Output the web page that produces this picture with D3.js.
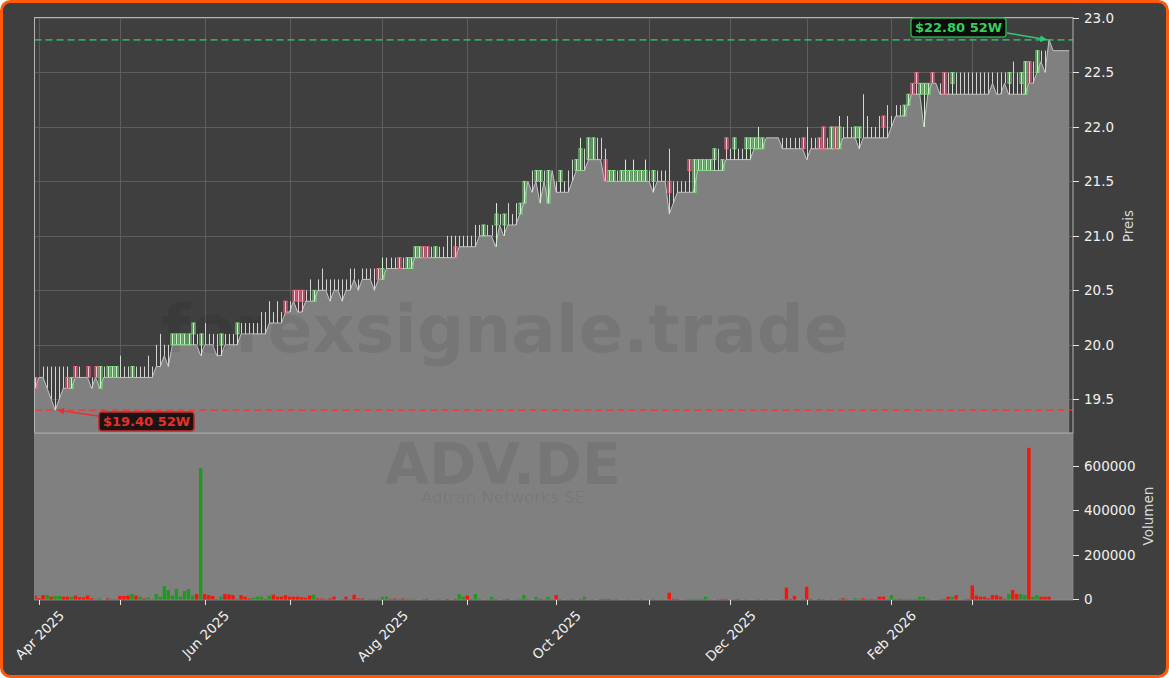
<!DOCTYPE html>
<html><head><meta charset="utf-8">
<script src="https://cdn.jsdelivr.net/npm/d3@7"></script>
<style>html,body{margin:0;padding:0;background:#fff;}svg{display:block;}</style>
</head><body>
<svg id="c" width="1169" height="678"></svg>
<script>
// ---------- DATA ----------
const startDate = "2025-03-31";
const tickEndDate = "2026-03-31";
const holidays = ["2025-04-18","2025-04-21","2025-05-01","2025-12-24","2025-12-25","2025-12-26","2025-12-31","2026-01-01"];

const lows = [
19.6,19.7,19.7,19.6,19.5,19.4,19.5,19.6,19.6,19.6,
19.7,19.7,19.7,19.7,19.6,19.7,19.6,19.7,19.7,19.7,
19.7,19.7,19.7,19.7,19.7,19.7,19.7,19.7,19.7,19.7,
19.8,19.8,19.9,19.8,20.0,20.0,20.0,20.0,20.0,20.0,
20.0,19.9,20.0,20.0,20.0,19.9,19.9,20.0,20.0,20.0,
20.0,20.1,20.1,20.1,20.1,20.1,20.1,20.1,20.2,20.2,
20.2,20.2,20.3,20.3,20.4,20.3,20.3,20.4,20.4,20.4,
20.5,20.5,20.5,20.4,20.5,20.5,20.4,20.5,20.5,20.6,
20.5,20.6,20.6,20.6,20.5,20.6,20.6,20.7,20.7,20.7,
20.7,20.7,20.7,20.7,20.8,20.8,20.8,20.8,20.8,20.8,
20.8,20.8,20.8,20.8,20.8,20.9,20.9,20.9,20.9,20.9,
21.0,21.0,21.0,21.0,20.9,21.1,21.0,21.1,21.1,21.1,
21.2,21.3,21.5,21.4,21.5,21.3,21.5,21.3,21.6,21.4,
21.4,21.4,21.4,21.5,21.6,21.6,21.6,21.7,21.7,21.7,
21.7,21.5,21.5,21.5,21.5,21.5,21.5,21.5,21.5,21.5,
21.5,21.5,21.5,21.4,21.5,21.5,21.5,21.2,21.3,21.4,
21.4,21.4,21.4,21.4,21.6,21.6,21.6,21.6,21.6,21.6,
21.6,21.7,21.7,21.7,21.7,21.7,21.7,21.7,21.8,21.8,
21.8,21.9,21.9,21.9,21.9,21.8,21.8,21.8,21.8,21.8,
21.8,21.7,21.8,21.8,21.8,21.8,21.8,21.8,21.8,21.8,
21.9,21.9,21.9,21.9,21.8,21.9,21.9,21.9,21.9,21.9,
21.9,21.9,22.0,22.1,22.1,22.1,22.2,22.3,22.3,22.3,
22.0,22.3,22.4,22.4,22.3,22.3,22.3,22.3,22.3,22.3,
22.3,22.3,22.3,22.3,22.3,22.3,22.3,22.4,22.3,22.3,
22.4,22.3,22.3,22.3,22.3,22.3,22.4,22.4,22.5,22.6,
22.5,22.8,22.7,22.7,22.7,22.7,22.7];

const highs = [
19.7,19.7,19.8,19.8,19.8,19.8,19.8,19.8,19.8,19.7,
19.8,19.8,19.7,19.8,19.7,19.8,19.8,19.8,19.8,19.8,
19.8,19.9,19.8,19.8,19.8,19.8,19.8,19.8,19.9,19.8,
20.0,20.1,20.0,20.0,20.1,20.1,20.1,20.1,20.1,20.2,
20.1,20.1,20.2,20.1,20.1,20.1,20.1,20.1,20.1,20.1,
20.2,20.2,20.2,20.2,20.2,20.2,20.3,20.3,20.4,20.3,
20.4,20.3,20.4,20.4,20.5,20.5,20.5,20.5,20.6,20.5,
20.6,20.7,20.6,20.6,20.6,20.6,20.6,20.6,20.7,20.7,
20.6,20.7,20.7,20.7,20.7,20.7,20.8,20.8,20.8,20.8,
20.8,20.8,20.8,20.8,20.9,20.9,20.9,20.9,20.9,20.9,
20.9,20.9,21.0,21.0,21.0,21.0,21.0,21.0,21.0,21.1,
21.1,21.1,21.1,21.1,21.3,21.2,21.2,21.3,21.2,21.3,
21.3,21.5,21.5,21.6,21.6,21.6,21.6,21.6,21.6,21.5,
21.6,21.5,21.6,21.7,21.7,21.9,21.8,21.9,21.9,21.9,
21.9,21.8,21.6,21.6,21.6,21.6,21.7,21.6,21.7,21.6,
21.6,21.7,21.6,21.6,21.6,21.6,21.6,21.8,21.5,21.5,
21.5,21.5,21.7,21.7,21.7,21.7,21.7,21.7,21.8,21.8,
21.7,21.9,21.8,21.9,21.8,21.8,21.9,21.9,21.9,22.0,
21.9,21.9,21.9,21.9,21.9,21.9,21.9,21.9,21.9,21.9,
21.9,22.0,21.9,21.9,21.9,22.0,21.9,22.0,22.0,22.1,
22.0,22.1,22.0,22.0,22.0,22.3,22.1,22.0,22.0,22.1,
22.1,22.2,22.1,22.2,22.2,22.2,22.3,22.4,22.5,22.4,
22.4,22.4,22.5,22.4,22.4,22.5,22.5,22.5,22.5,22.5,
22.5,22.5,22.5,22.5,22.5,22.5,22.5,22.5,22.5,22.5,
22.5,22.5,22.6,22.5,22.5,22.6,22.6,22.6,22.7,22.7,
22.7,22.8,22.7,22.7,22.7,22.7,22.7];

const opens = [
19.7,19.7,19.7,19.6,19.5,19.4,19.5,19.6,19.7,19.6,
19.8,19.7,19.7,19.8,19.6,19.8,19.6,19.7,19.7,19.7,
19.7,19.7,19.7,19.7,19.7,19.7,19.7,19.7,19.7,19.7,
19.8,19.8,19.9,19.8,20.0,20.0,20.0,20.0,20.0,20.1,
20.0,20.0,20.0,20.0,20.0,19.9,20.0,20.0,20.0,20.0,
20.1,20.1,20.1,20.1,20.1,20.1,20.1,20.1,20.2,20.2,
20.2,20.2,20.4,20.3,20.5,20.5,20.5,20.4,20.4,20.4,
20.5,20.5,20.5,20.4,20.5,20.5,20.4,20.5,20.5,20.6,
20.5,20.6,20.6,20.6,20.5,20.7,20.6,20.7,20.7,20.7,
20.8,20.7,20.7,20.7,20.8,20.8,20.9,20.9,20.8,20.8,
20.8,20.8,20.8,20.8,20.9,20.9,20.9,20.9,20.9,20.9,
21.0,21.0,21.0,21.0,21.1,21.1,21.1,21.1,21.1,21.1,
21.2,21.3,21.5,21.4,21.5,21.5,21.5,21.3,21.6,21.4,
21.5,21.4,21.4,21.5,21.6,21.6,21.6,21.7,21.7,21.7,
21.7,21.7,21.5,21.5,21.5,21.5,21.5,21.5,21.5,21.5,
21.5,21.5,21.5,21.5,21.5,21.5,21.5,21.5,21.3,21.4,
21.4,21.4,21.7,21.4,21.6,21.6,21.6,21.6,21.7,21.6,
21.6,21.9,21.7,21.8,21.7,21.7,21.8,21.8,21.8,21.8,
21.8,21.9,21.9,21.9,21.9,21.8,21.8,21.8,21.8,21.8,
21.9,21.7,21.8,21.8,21.9,22.0,21.8,21.8,22.0,21.8,
21.9,21.9,21.9,21.9,21.9,21.9,21.9,21.9,21.9,21.9,
22.1,21.9,22.0,22.1,22.1,22.1,22.2,22.4,22.5,22.3,
22.3,22.3,22.5,22.4,22.3,22.5,22.3,22.4,22.3,22.3,
22.3,22.3,22.3,22.3,22.3,22.3,22.3,22.4,22.3,22.3,
22.4,22.4,22.3,22.3,22.4,22.3,22.6,22.4,22.5,22.6,
22.5,22.8,22.7,22.7,22.7,22.7,22.7];

const closes = [
19.6,19.7,19.7,19.6,19.5,19.4,19.5,19.6,19.6,19.7,
19.7,19.7,19.7,19.7,19.6,19.7,19.8,19.7,19.8,19.8,
19.8,19.7,19.7,19.7,19.8,19.7,19.7,19.7,19.7,19.7,
19.8,19.8,19.9,19.8,20.1,20.1,20.1,20.1,20.1,20.2,
20.0,20.1,20.0,20.0,20.0,19.9,20.1,20.0,20.0,20.0,
20.2,20.1,20.1,20.1,20.1,20.1,20.1,20.1,20.2,20.2,
20.2,20.2,20.3,20.3,20.4,20.4,20.4,20.4,20.4,20.5,
20.5,20.5,20.5,20.4,20.5,20.5,20.4,20.5,20.5,20.6,
20.5,20.6,20.6,20.6,20.5,20.6,20.7,20.7,20.7,20.7,
20.7,20.7,20.8,20.8,20.9,20.9,20.8,20.8,20.8,20.9,
20.8,20.8,20.8,20.8,20.8,20.9,20.9,20.9,20.9,20.9,
21.0,21.1,21.0,21.0,21.2,21.1,21.2,21.1,21.1,21.1,
21.3,21.5,21.5,21.4,21.6,21.6,21.5,21.6,21.6,21.4,
21.6,21.4,21.4,21.5,21.7,21.8,21.6,21.9,21.9,21.7,
21.7,21.5,21.6,21.6,21.5,21.6,21.6,21.6,21.6,21.6,
21.6,21.6,21.5,21.6,21.5,21.5,21.5,21.4,21.3,21.4,
21.4,21.4,21.6,21.7,21.7,21.7,21.7,21.7,21.8,21.6,
21.7,21.8,21.7,21.9,21.7,21.7,21.9,21.9,21.9,21.9,
21.9,21.9,21.9,21.9,21.9,21.8,21.8,21.8,21.8,21.8,
21.8,21.7,21.8,21.8,21.8,21.8,21.8,22.0,21.8,22.0,
21.9,21.9,21.9,22.0,22.0,21.9,21.9,21.9,21.9,21.9,
22.0,21.9,22.0,22.1,22.1,22.2,22.3,22.3,22.4,22.4,
22.4,22.4,22.4,22.4,22.3,22.3,22.3,22.5,22.3,22.3,
22.3,22.3,22.3,22.3,22.3,22.3,22.3,22.4,22.3,22.3,
22.4,22.5,22.3,22.3,22.5,22.6,22.4,22.4,22.7,22.6,
22.5,22.8,22.7,22.7,22.7,22.7,22.7];

const volumes = [
20000,8000,22000,22000,15000,18000,18000,15000,15000,15000,
20000,12000,12000,20000,8000,3000,7000,0,7000,5000,
5000,18000,18000,20000,27000,20000,15000,7000,12000,4000,
27000,15000,63000,45000,20000,50000,15000,40000,50000,20000,
27000,595000,27000,22000,18000,3000,15000,27000,25000,22000,
5000,22000,15000,7000,10000,15000,15000,5000,20000,24000,
15000,15000,22000,15000,15000,15000,12000,10000,20000,24000,
7000,7000,3000,7000,15000,0,3000,15000,3000,24000,
7000,7000,0,5000,5000,3000,15000,15000,5000,7000,
3000,7000,5000,5000,3000,0,3000,5000,0,3000,
5000,0,5000,0,5000,27000,15000,20000,5000,27000,
5000,0,3000,15000,5000,0,3000,5000,0,3000,
5000,22000,5000,0,15000,5000,3000,15000,3000,22000,
3000,0,3000,5000,0,5000,15000,0,3000,0,
5000,5000,5000,3000,5000,0,0,3000,0,0,
5000,0,0,5000,0,3000,0,33000,5000,5000,
0,3000,5000,5000,5000,5000,15000,3000,0,3000,
5000,5000,0,3000,5000,0,3000,0,0,5000,
0,3000,0,0,0,3000,56000,5000,18000,0,
3000,60000,5000,0,5000,3000,0,3000,0,5000,
8000,3000,0,8000,5000,8000,3000,5000,3000,15000,
15000,3000,22000,5000,5000,5000,5000,5000,3000,15000,
15000,3000,0,0,3000,5000,15000,15000,22000,0,
3000,5000,66000,20000,15000,15000,8000,22000,22000,15000,
5000,27000,45000,27000,27000,22000,686000,15000,22000,15000,
15000,15000,0,0,0,0,0];

const volumeDirection = (
"rrrgrggrrg"+"rrrrrgggrg"+"grrrgrgrgg"+"gggggggggg"+"rgrrrrgrrr"+
"grrrgggrgr"+"rrrrrrrrrg"+"rrrrrrrrrr"+"rrrggrggrr"+"rrggggrrrg"+
"ggrrrggrgg"+"ggggggrrrg"+"gggggrrggr"+"rrgggggggg"+"rrrggggggg"+
"gggggggrrr"+"gggggggggr"+"rrrrrrgggg"+"gggggrrrrr"+"rrrrrrrggg"+
"rrrggrrrrr"+"rrggrgggrg"+"grrrrrrgrr"+"rrrrrrrrrr"+"rgrrggrggr"+
"rrrrrrr").split("");

const priceTicks = [19.5,20.0,20.5,21.0,21.5,22.0,22.5,23.0];
const volumeTicks = [0,200000,400000,600000];
const titleSymbol = "ADV.DE";
const titleName = "Adtran Networks SE";
const watermark = "forexsignale.trade";
const priceLabel = "Preis";
const volumeLabel = "Volumen";

// ---------- LAYOUT ----------
const W = 1169, H = 678;
const PL = 34.5, PR = 1073, PT = 17.5, PB = 433, VB = 600;
const N = lows.length;
const FONT = "DejaVu Sans, sans-serif";

// trading dates
const dates = [];
{
  const p = startDate.split("-").map(Number);
  let d = new Date(Date.UTC(p[0], p[1]-1, p[2]));
  while (dates.length < N) {
    const wd = d.getUTCDay();
    const iso = d.toISOString().slice(0,10);
    if (wd !== 0 && wd !== 6 && !holidays.includes(iso)) dates.push(new Date(d));
    d.setUTCDate(d.getUTCDate()+1);
  }
}
const tickEnd = new Date(tickEndDate + "T23:59:59Z");
const monthTicks = [];
for (let i = 1; i < N; i++)
  if (dates[i].getUTCMonth() !== dates[i-1].getUTCMonth() && dates[i] <= tickEnd) monthTicks.push(i);
const fmt = d3.utcFormat("%b %Y");

const x = d3.scaleLinear().domain([0, N-1]).range([35, 35 + 4.04*(N-1)]);
const yP = d3.scaleLinear().domain([19.19, 23.0]).range([PB, 18]);
const yV = d3.scaleLinear().domain([0, 753000]).range([VB, PB]);

const svg = d3.select("#c");
svg.append("rect").attr("width", W).attr("height", H).attr("fill", "#ffffff");
svg.append("rect").attr("x", 1.5).attr("y", 1.5).attr("width", W-3).attr("height", H-3)
  .attr("rx", 9).attr("fill", "#3f3f3f").attr("stroke", "#ff5a0a").attr("stroke-width", 3);

const defs = svg.append("defs");
defs.append("clipPath").attr("id", "clipP").append("rect")
  .attr("x", PL).attr("y", PT).attr("width", PR-PL).attr("height", PB-PT);
defs.append("clipPath").attr("id", "clipV").append("rect")
  .attr("x", PL).attr("y", PB).attr("width", PR-PL).attr("height", VB-PB);
function marker(id, color) {
  defs.append("marker").attr("id", id).attr("viewBox", "0 0 10 10").attr("refX", 10).attr("refY", 5)
    .attr("markerWidth", 7).attr("markerHeight", 7).attr("markerUnits", "userSpaceOnUse")
    .attr("orient", "auto").append("path").attr("d", "M0,0 L10,5 L0,10 z").attr("fill", color);
}
marker("arrG", "#2ecc71");
marker("arrR", "#e8302a");

// ---------- PRICE PANEL ----------
const gp = svg.append("g").attr("clip-path", "url(#clipP)");
gp.selectAll("line.hg").data(priceTicks).join("line")
  .attr("x1", PL).attr("x2", PR).attr("y1", d => Math.round(yP(d))+0.5).attr("y2", d => Math.round(yP(d))+0.5)
  .attr("stroke", "#656565").attr("stroke-width", 0.8);
gp.selectAll("line.vg").data(monthTicks).join("line")
  .attr("x1", d => Math.round(x(d))+0.5).attr("x2", d => Math.round(x(d))+0.5).attr("y1", PT).attr("y2", PB)
  .attr("stroke", "#656565").attr("stroke-width", 0.8);

const idx = d3.range(N);
gp.append("path").datum(idx)
  .attr("d", d3.area().x(i => x(i)).y0(PB).y1(i => yP(lows[i])))
  .attr("fill", "#808080");
gp.append("path").datum(idx)
  .attr("d", d3.line().x(i => x(i)).y(i => yP(lows[i])))
  .attr("fill", "none").attr("stroke", "#c4c4c4").attr("stroke-width", 1);

gp.append("text").attr("x", 505).attr("y", 352).attr("text-anchor", "middle")
  .attr("font-family", FONT).attr("font-weight", "bold").attr("font-size", 66)
  .attr("fill", "#000").attr("fill-opacity", 0.075).text(watermark);

const maxH = d3.max(highs), minL = d3.min(lows);
const hiIdx = highs.indexOf(maxH), loIdx = lows.indexOf(minL);
gp.append("line").attr("x1", PL).attr("x2", PR).attr("y1", yP(maxH)).attr("y2", yP(maxH))
  .attr("stroke", "#2ecc71").attr("stroke-opacity", 0.75).attr("stroke-width", 1.8).attr("stroke-dasharray", "7,4");
gp.append("line").attr("x1", PL).attr("x2", PR).attr("y1", yP(minL)).attr("y2", yP(minL))
  .attr("stroke", "#ff3030").attr("stroke-opacity", 0.75).attr("stroke-width", 1.8).attr("stroke-dasharray", "7,4");

const cx = i => Math.round(x(i)) + 0.5;
gp.selectAll("line.wick").data(idx).join("line")
  .attr("x1", cx).attr("x2", cx)
  .attr("y1", i => yP(highs[i])).attr("y2", i => yP(lows[i]))
  .attr("stroke", i => closes[i] > opens[i] ? "#d4eed4" : (closes[i] < opens[i] ? "#f2c8d2" : "#d4d4d4"))
  .attr("stroke-width", 1);
gp.selectAll("rect.body").data(idx.filter(i => opens[i] !== closes[i])).join("rect")
  .attr("x", i => cx(i) - 1.5).attr("width", 3)
  .attr("y", i => yP(Math.max(opens[i], closes[i])))
  .attr("height", i => Math.abs(yP(opens[i]) - yP(closes[i])))
  .attr("fill", "none")
  .attr("stroke", i => closes[i] > opens[i] ? "#7ee07e" : "#ff6688")
  .attr("stroke-width", 1);

svg.append("rect").attr("x", PL).attr("y", PT).attr("width", PR-PL).attr("height", PB-PT)
  .attr("fill", "none").attr("stroke", "#b4b4b4").attr("stroke-width", 1);

// ---------- VOLUME PANEL ----------
svg.append("rect").attr("x", PL).attr("y", PB).attr("width", PR-PL).attr("height", VB-PB).attr("fill", "#808080");
const gv = svg.append("g").attr("clip-path", "url(#clipV)");
gv.append("text").attr("x", 503).attr("y", 484).attr("text-anchor", "middle")
  .attr("font-family", FONT).attr("font-weight", "bold").attr("font-size", 57)
  .attr("fill", "#000").attr("fill-opacity", 0.075).text(titleSymbol);
gv.append("text").attr("x", 503).attr("y", 503).attr("text-anchor", "middle")
  .attr("font-family", FONT).attr("font-size", 16.5)
  .attr("fill", "#000").attr("fill-opacity", 0.075).text(titleName);
gv.selectAll("rect.vol").data(idx.filter(i => volumes[i] > 0)).join("rect")
  .attr("x", i => x(i) - 1.7).attr("width", 3.4)
  .attr("y", i => yV(volumes[i])).attr("height", i => yV(0) - yV(volumes[i]))
  .attr("fill", i => volumeDirection[i] === "g" ? "#1f9a1f" : "#f81408");
svg.append("line").attr("x1", PL).attr("x2", PR).attr("y1", PB+0.5).attr("y2", PB+0.5)
  .attr("stroke", "#a8a8a8").attr("stroke-width", 1.2);
svg.append("rect").attr("x", PL).attr("y", PB).attr("width", PR-PL).attr("height", VB-PB)
  .attr("fill", "none").attr("stroke", "#8c8c8c").attr("stroke-width", 0.8);

// ---------- AXES ----------
const tickColor = "#e6e6e6";
const ga = svg.append("g");
priceTicks.forEach(v => {
  const yy = Math.round(yP(v)) + 0.5;
  ga.append("line").attr("x1", PR).attr("x2", PR+6).attr("y1", yy).attr("y2", yy).attr("stroke", tickColor);
  ga.append("text").attr("x", PR+11).attr("y", yy).attr("dy", "0.35em")
    .attr("font-family", FONT).attr("font-size", 13.5).attr("fill", "#f0f0f0").text(v.toFixed(1));
});
volumeTicks.forEach(v => {
  const yy = Math.round(yV(v)) - 0.5;
  ga.append("line").attr("x1", PR).attr("x2", PR+6).attr("y1", yy).attr("y2", yy).attr("stroke", tickColor);
  ga.append("text").attr("x", PR+11).attr("y", yy).attr("dy", "0.35em")
    .attr("font-family", FONT).attr("font-size", 13.5).attr("fill", "#f0f0f0").text(String(v));
});
ga.append("text").attr("transform", "translate(1133,226) rotate(-90)").attr("text-anchor", "middle")
  .attr("font-family", FONT).attr("font-size", 13.5).attr("fill", "#d8d8d8").text(priceLabel);
ga.append("text").attr("transform", "translate(1153,516) rotate(-90)").attr("text-anchor", "middle")
  .attr("font-family", FONT).attr("font-size", 13.5).attr("fill", "#d8d8d8").text(volumeLabel);

monthTicks.forEach(i => {
  const xx = Math.round(x(i)) + 0.5;
  ga.append("line").attr("x1", xx).attr("x2", xx).attr("y1", VB).attr("y2", VB+5).attr("stroke", tickColor);
  if (dates[i].getUTCMonth() % 2 === 1) {
    const t = ga.append("text").attr("text-anchor", "middle").attr("dominant-baseline", "central")
      .attr("font-family", FONT).attr("font-size", 13.5).attr("fill", "#f0f0f0").text(fmt(dates[i]));
    const len = t.node().getComputedTextLength();
    const half = (len + 14) * 0.7071 / 2;
    t.attr("transform", `translate(${xx},${608 + half}) rotate(-45)`);
  }
});

// ---------- 52W ANNOTATIONS ----------
function annot(txt, cxp, cyp, color, border, fill) {
  const g = svg.append("g");
  const t = g.append("text").attr("x", cxp).attr("y", cyp).attr("text-anchor", "middle").attr("dy", "0.36em")
    .attr("font-family", FONT).attr("font-weight", "bold").attr("font-size", 13).attr("fill", color).text(txt);
  const bb = t.node().getBBox();
  g.insert("rect", "text").attr("x", bb.x - 4).attr("y", cyp - 9.5).attr("width", bb.width + 8).attr("height", 19)
    .attr("rx", 3).attr("fill", fill).attr("stroke", border).attr("stroke-width", 1.5);
  return {left: bb.x - 4, right: bb.x + bb.width + 4};
}
const hb = annot("$" + maxH.toFixed(2) + " 52W", 958.5, 27.5, "#35d05c", "#27a84a", "#0c0c0c");
svg.append("line").attr("x1", hb.right + 1).attr("y1", 33).attr("x2", x(hiIdx) - 2).attr("y2", yP(maxH))
  .attr("stroke", "#2ecc71").attr("stroke-width", 1.5).attr("marker-end", "url(#arrG)");
const lb = annot("$" + minL.toFixed(2) + " 52W", 146.5, 421.5, "#e8302a", "#d02828", "#1a1414");
svg.append("line").attr("x1", lb.left - 1).attr("y1", 416).attr("x2", x(loIdx) + 2).attr("y2", yP(minL))
  .attr("stroke", "#e8302a").attr("stroke-width", 1.5).attr("marker-end", "url(#arrR)");
</script>
</body></html>
